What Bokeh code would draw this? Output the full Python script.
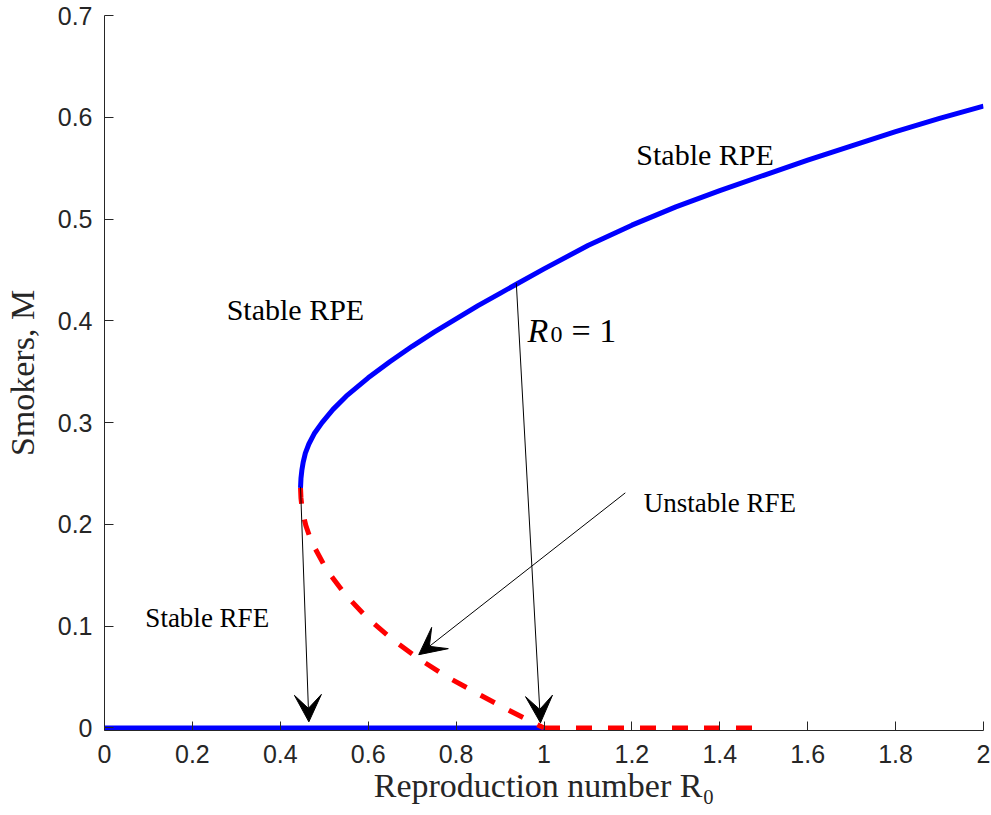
from bokeh.plotting import figure
from bokeh.models import (Range1d, FixedTicker, CustomJSTickFormatter, Label,
                          Arrow, VeeHead)
from bokeh.embed import file_html
from bokeh.resources import INLINE

# ---- data ----
r0_upper = [0.446, 0.447, 0.449, 0.452, 0.457, 0.465, 0.477, 0.495, 0.520,
            0.550, 0.600, 0.650, 0.700, 0.750, 0.800, 0.850, 0.900, 0.937,
            1.000, 1.100, 1.200, 1.300, 1.400, 1.500, 1.600, 1.700, 1.800,
            1.900, 2.000]
m_upper = [0.236, 0.245, 0.253, 0.261, 0.270, 0.279, 0.289, 0.300, 0.313,
           0.326, 0.344, 0.360, 0.375, 0.389, 0.402, 0.415, 0.427, 0.436,
           0.451, 0.474, 0.494, 0.512, 0.528, 0.543, 0.558, 0.572, 0.586,
           0.599, 0.611]

r0_lower = [0.446, 0.447, 0.449, 0.452, 0.458, 0.466, 0.472, 0.506, 0.548,
            0.598, 0.658, 0.715, 0.780, 0.848, 0.908, 0.960, 1.0]
m_lower = [0.236, 0.226, 0.218, 0.210, 0.199, 0.189, 0.182, 0.155, 0.131,
           0.108, 0.086, 0.068, 0.050, 0.034, 0.020, 0.0085, 0.0]

r0_rfe_stable = [0.0, 1.0]
m_rfe_stable = [0.0, 0.0]
r0_rfe_unstable = [1.0, 1.48]
m_rfe_unstable = [0.0, 0.0]

x_ticks = [0, 0.2, 0.4, 0.6, 0.8, 1.0, 1.2, 1.4, 1.6, 1.8, 2.0]
y_ticks = [0, 0.1, 0.2, 0.3, 0.4, 0.5, 0.6, 0.7]

x_label = "Reproduction number R\u2080"
y_label = "Smokers, M"

AX = "#262626"
BLUE = "#0000FF"
RED = "#FF0000"
SERIF = "Liberation Serif"

p = figure(width=990, height=814, output_backend="svg", toolbar_location=None,
           x_range=Range1d(0, 2), y_range=Range1d(-0.0025, 0.7),
           min_border_left=104, min_border_right=7, min_border_top=15,
           min_border_bottom=84)
p.outline_line_color = None
p.grid.visible = False
p.background_fill_color = "white"
p.border_fill_color = "white"

fmt = CustomJSTickFormatter(code="return String(Math.round(tick*10)/10);")
for ax in (p.xaxis[0], p.yaxis[0]):
    ax.axis_line_color = AX
    ax.axis_line_width = 1
    ax.major_tick_line_color = AX
    ax.major_tick_in = 9
    ax.major_tick_out = 0
    ax.minor_tick_line_color = None
    ax.major_label_text_font = "Liberation Sans"
    ax.major_label_text_font_size = "25px"
    ax.major_label_text_color = AX
    ax.axis_label_text_font = SERIF
    ax.axis_label_text_font_size = "34px"
    ax.axis_label_text_font_style = "normal"
    ax.axis_label_text_color = AX
    ax.formatter = fmt

p.xaxis.ticker = FixedTicker(ticks=x_ticks)
p.yaxis.ticker = FixedTicker(ticks=y_ticks)
p.xaxis.axis_label = x_label
p.yaxis.axis_label = y_label
p.xaxis.major_label_standoff = 14
p.xaxis.axis_label_standoff = 1
p.yaxis.major_label_standoff = 12
p.yaxis.axis_label_standoff = 14

# ---- curves ----
p.line(r0_rfe_stable, m_rfe_stable, line_color=BLUE, line_width=5)
p.line(r0_rfe_unstable, m_rfe_unstable, line_color=RED, line_width=5,
       line_dash="16 16")
p.line(r0_lower, m_lower, line_color=RED, line_width=5, line_dash="16 16",
       line_join="round")
p.line(r0_upper, m_upper, line_color=BLUE, line_width=5, line_join="round")

# ---- arrows ----
arrows = [
    ((0.446, 0.237), (0.465, 0.006)),
    ((0.937, 0.437), (0.992, 0.005)),
    ((1.185, 0.231), (0.715, 0.072)),
]
for (xs, ys), (xe, ye) in arrows:
    p.add_layout(Arrow(end=VeeHead(size=27, fill_color="black",
                                   line_color="black", line_width=1),
                       x_start=xs, y_start=ys, x_end=xe, y_end=ye,
                       line_color="black", line_width=1))

# ---- annotations ----
def add_text(x, y, text, size, style="normal"):
    p.add_layout(Label(x=x, y=y, text=text, text_font=SERIF,
                       text_font_size=size, text_font_style=style,
                       text_color="black", text_align="left",
                       text_baseline="alphabetic"))

add_text(0.278, 0.411, "Stable RPE", "30px")
add_text(1.210, 0.5635, "Stable RPE", "30px")
add_text(0.093, 0.1077, "Stable RFE", "27px")
add_text(1.227, 0.2206, "Unstable RFE", "27px")
add_text(0.9625, 0.3907, "R", "34px", "italic")
add_text(1.0148, 0.3868, "0", "24px")
add_text(1.0626, 0.3907, "= 1", "34px")

open("out.html", "w").write(file_html(p, INLINE))
